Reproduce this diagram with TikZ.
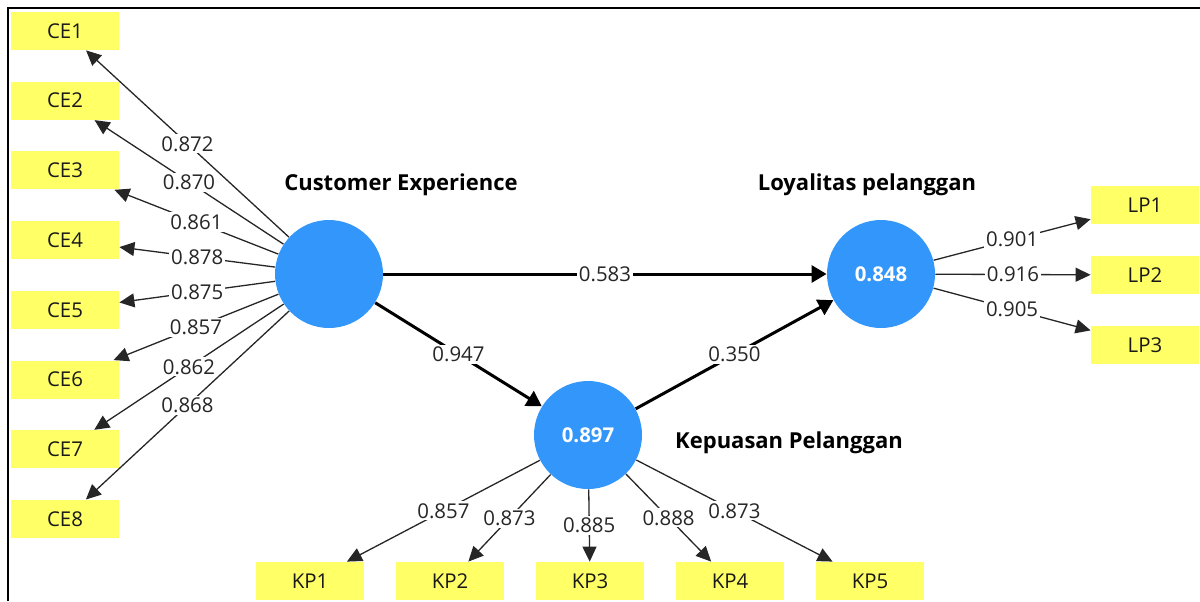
\documentclass[tikz,border=0pt]{standalone}
\usepackage{fontspec}
\setmainfont{Open Sans}
\usetikzlibrary{arrows.meta}
\definecolor{lvblue}{RGB}{51,150,250}
\definecolor{indyel}{RGB}{255,255,102}
\begin{document}
\begin{tikzpicture}[x=0.5pt,y=-0.5pt,
  ind/.style={fill=indyel, minimum width=54pt, minimum height=19pt, inner sep=0pt, text=black!90, font=\fontsize{10.2}{12}\selectfont},
  lv/.style={circle, fill=lvblue, minimum size=54pt, inner sep=0pt, text=white, font=\bfseries\fontsize{10.2}{12}\selectfont},
  ttl/.style={font=\bfseries\fontsize{11}{13}\selectfont, anchor=base, text=black},
  meas/.style={line width=0.65pt, draw=black!85, -{Triangle[length=7.5pt,width=7pt]}},
  strpath/.style={line width=1.5pt, -{Triangle[length=7.5pt,width=8.5pt]}},
  wt/.style={fill=white, inner sep=1pt, text=black!85, font=\fontsize{10.2}{12}\selectfont}
]
\useasboundingbox (0,0) rectangle (1200,601);
\draw[line width=1pt] (8,601) -- (8,8) -- (1200,8);

% latent variables
\node[lv] (ce) at (329,274) {};
\node[lv] (kp) at (588,435) {0.897};
\node[lv] (lp) at (881,274) {0.848};

% titles
\node[ttl] (tce) at (401,190) {Customer Experience};
\node[ttl] (tlp) at (867,190) {Loyalitas pelanggan};
\node[ttl] (tkp) at (789,448) {Kepuasan Pelanggan};

% indicators
\node[ind] (ce1) at (65,31) {CE1};
\node[ind] (ce2) at (65,100.7) {CE2};
\node[ind] (ce3) at (65,170.4) {CE3};
\node[ind] (ce4) at (65,240.1) {CE4};
\node[ind] (ce5) at (65,309.8) {CE5};
\node[ind] (ce6) at (65,379.5) {CE6};
\node[ind] (ce7) at (65,449.2) {CE7};
\node[ind] (ce8) at (65,518.9) {CE8};

\node[ind] (kp1) at (310,581) {KP1};
\node[ind] (kp2) at (450,581) {KP2};
\node[ind] (kp3) at (590,581) {KP3};
\node[ind] (kp4) at (730,581) {KP4};
\node[ind] (kp5) at (870,581) {KP5};

\node[ind] (lp1) at (1145,205) {LP1};
\node[ind] (lp2) at (1145,275) {LP2};
\node[ind] (lp3) at (1145,345) {LP3};

% measurement edges
\draw[meas] (ce) -- node[wt] {0.872} (ce1);
\draw[meas] (ce) -- node[wt] {0.870} (ce2);
\draw[meas] (ce) -- node[wt] {0.861} (ce3);
\draw[meas] (ce) -- node[wt] {0.878} (ce4);
\draw[meas] (ce) -- node[wt] {0.875} (ce5);
\draw[meas] (ce) -- node[wt] {0.857} (ce6);
\draw[meas] (ce) -- node[wt] {0.862} (ce7);
\draw[meas] (ce) -- node[wt] {0.868} (ce8);

\draw[meas] (kp) -- node[wt] {0.857} (kp1);
\draw[meas] (kp) -- node[wt] {0.873} (kp2);
\draw[meas] (kp) -- node[wt] {0.885} (kp3);
\draw[meas] (kp) -- node[wt] {0.888} (kp4);
\draw[meas] (kp) -- node[wt] {0.873} (kp5);

\draw[meas] (lp) -- node[wt] {0.901} (lp1);
\draw[meas] (lp) -- node[wt] {0.916} (lp2);
\draw[meas] (lp) -- node[wt] {0.905} (lp3);

% structural paths
\draw[strpath] (ce) -- node[wt] {0.583} (lp);
\draw[strpath] (ce) -- node[wt] {0.947} (kp);
\draw[strpath] (kp) -- node[wt] {0.350} (lp);
\end{tikzpicture}
\end{document}
